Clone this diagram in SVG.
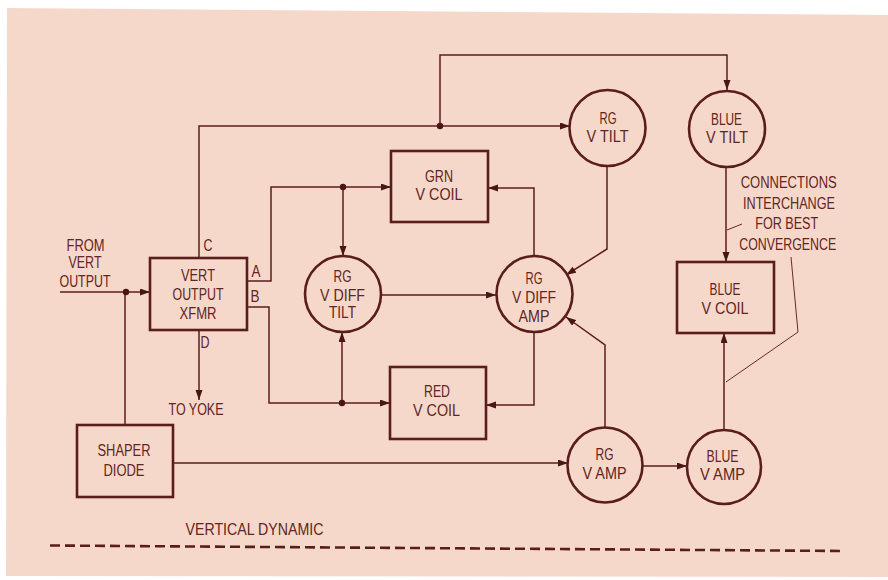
<svg xmlns="http://www.w3.org/2000/svg" width="888" height="580" viewBox="0 0 888 580">
<defs>
<style>
.bg{fill:#f6d8cb}
.box{fill:none;stroke:#5a1e1a;stroke-width:2.6}
.c{fill:none;stroke:#5a1e1a;stroke-width:1.5}
.thin{fill:none;stroke:#6a2a25;stroke-width:1}
.dot{fill:#4a1614}
.dash{fill:none;stroke:#5a1e1a;stroke-width:2.6;stroke-dasharray:10 5}
text{font-family:"Liberation Sans",Arial,sans-serif;font-size:16px;fill:#632520;text-anchor:middle}
.st{text-anchor:start}
</style>
<marker id="ah" markerUnits="userSpaceOnUse" markerWidth="11" markerHeight="8" refX="10" refY="3.5" orient="auto">
<path d="M0,0 L10,3.5 L0,7 z" fill="#4a1614"/>
</marker>
</defs>
<polygon class="bg" points="7,8 888,15 888,577 6,576"/>

<g id="connectors">
<path class="c" d="M60,292 H150" marker-end="url(#ah)"/>
<path class="c" d="M125,425 V292"/>
<path class="c" d="M199,258 V126 H570" marker-end="url(#ah)"/>
<path class="c" d="M440,126 V55 H727 V90" marker-end="url(#ah)"/>
<path class="c" d="M247,281 H271 V187 H391" marker-end="url(#ah)"/>
<path class="c" d="M343,187 V256" marker-end="url(#ah)"/>
<path class="c" d="M247,307 H269 V403 H390" marker-end="url(#ah)"/>
<path class="c" d="M342,403 V332" marker-end="url(#ah)"/>
<path class="c" d="M199,330 V400" marker-end="url(#ah)"/>
<path class="c" d="M381,295 H496" marker-end="url(#ah)"/>
<path class="c" d="M534,256 V188 H488" marker-end="url(#ah)"/>
<path class="c" d="M534,332 V405 H486" marker-end="url(#ah)"/>
<path class="c" d="M607,166 V249 L566,275" marker-end="url(#ah)"/>
<path class="c" d="M605,428 V345 L566,317" marker-end="url(#ah)"/>
<path class="c" d="M173,463 H568" marker-end="url(#ah)"/>
<path class="c" d="M642,466 H687" marker-end="url(#ah)"/>
<path class="c" d="M724,430 V333" marker-end="url(#ah)"/>
<path class="c" d="M726,167 V262" marker-end="url(#ah)"/>
<path class="thin" d="M727,230 L742,224"/>
<path class="thin" d="M791,257 L798,332 L726,382"/>
<circle class="dot" cx="126" cy="292" r="3.2"/>
<circle class="dot" cx="440" cy="126" r="3.2"/>
<circle class="dot" cx="343" cy="187" r="3.2"/>
<circle class="dot" cx="342" cy="403" r="3.2"/>
</g>

<g id="from-vert-output">
<text x="85.5" y="250.7" textLength="38" lengthAdjust="spacingAndGlyphs">FROM</text>
<text x="85" y="268.4" textLength="33" lengthAdjust="spacingAndGlyphs">VERT</text>
<text x="85" y="286.7" textLength="51" lengthAdjust="spacingAndGlyphs">OUTPUT</text>
</g>

<g id="vert-output-xfmr">
<rect class="box" x="150" y="258" width="97" height="72"/>
<text x="198" y="280.7" textLength="34" lengthAdjust="spacingAndGlyphs">VERT</text>
<text x="198" y="299.7" textLength="51" lengthAdjust="spacingAndGlyphs">OUTPUT</text>
<text x="198" y="318.7" textLength="37" lengthAdjust="spacingAndGlyphs">XFMR</text>
<text x="208" y="250.7" textLength="9" lengthAdjust="spacingAndGlyphs">C</text>
<text x="256" y="277.4" textLength="9" lengthAdjust="spacingAndGlyphs">A</text>
<text x="255" y="302.4" textLength="9" lengthAdjust="spacingAndGlyphs">B</text>
<text x="205" y="347.7" textLength="9" lengthAdjust="spacingAndGlyphs">D</text>
</g>

<g id="to-yoke">
<text x="196" y="414.7" textLength="55" lengthAdjust="spacingAndGlyphs">TO YOKE</text>
</g>

<g id="grn-v-coil">
<rect class="box" x="391" y="151" width="97" height="71"/>
<text x="439" y="181.7" textLength="28" lengthAdjust="spacingAndGlyphs">GRN</text>
<text x="439" y="199.7" textLength="47" lengthAdjust="spacingAndGlyphs">V COIL</text>
</g>

<g id="red-v-coil">
<rect class="box" x="390" y="367" width="96" height="72"/>
<text x="437" y="397.4" textLength="26" lengthAdjust="spacingAndGlyphs">RED</text>
<text x="436.5" y="415.7" textLength="47" lengthAdjust="spacingAndGlyphs">V COIL</text>
</g>

<g id="rg-v-diff-tilt">
<circle class="box" cx="343" cy="294" r="38"/>
<text x="342.5" y="281.7" textLength="18" lengthAdjust="spacingAndGlyphs">RG</text>
<text x="342.5" y="300.7" textLength="45" lengthAdjust="spacingAndGlyphs">V DIFF</text>
<text x="342.5" y="318.4" textLength="27" lengthAdjust="spacingAndGlyphs">TILT</text>
</g>

<g id="rg-v-diff-amp">
<circle class="box" cx="534.5" cy="294" r="38"/>
<text x="534" y="284" textLength="17" lengthAdjust="spacingAndGlyphs">RG</text>
<text x="534" y="303" textLength="44" lengthAdjust="spacingAndGlyphs">V DIFF</text>
<text x="534" y="321.7" textLength="31" lengthAdjust="spacingAndGlyphs">AMP</text>
</g>

<g id="rg-v-tilt">
<circle class="box" cx="607.5" cy="128" r="38"/>
<text x="608" y="124" textLength="17" lengthAdjust="spacingAndGlyphs">RG</text>
<text x="607.5" y="142.4" textLength="42" lengthAdjust="spacingAndGlyphs">V TILT</text>
</g>

<g id="blue-v-tilt">
<circle class="box" cx="727" cy="129" r="38"/>
<text x="726.5" y="125" textLength="31" lengthAdjust="spacingAndGlyphs">BLUE</text>
<text x="727" y="143" textLength="42" lengthAdjust="spacingAndGlyphs">V TILT</text>
</g>

<g id="blue-v-coil">
<rect class="box" x="677" y="262" width="97" height="71"/>
<text x="725" y="295" textLength="31" lengthAdjust="spacingAndGlyphs">BLUE</text>
<text x="725" y="314" textLength="47" lengthAdjust="spacingAndGlyphs">V COIL</text>
</g>

<g id="rg-v-amp">
<circle class="box" cx="605" cy="465" r="37.5"/>
<text x="604.5" y="459.7" textLength="18" lengthAdjust="spacingAndGlyphs">RG</text>
<text x="604.5" y="479" textLength="44" lengthAdjust="spacingAndGlyphs">V AMP</text>
</g>

<g id="blue-v-amp">
<circle class="box" cx="724" cy="467" r="37"/>
<text x="722.5" y="461.7" textLength="32" lengthAdjust="spacingAndGlyphs">BLUE</text>
<text x="722.5" y="479.7" textLength="45" lengthAdjust="spacingAndGlyphs">V AMP</text>
</g>

<g id="shaper-diode">
<rect class="box" x="77" y="425" width="96" height="72"/>
<text x="124" y="456.4" textLength="53" lengthAdjust="spacingAndGlyphs">SHAPER</text>
<text x="124" y="475.7" textLength="41" lengthAdjust="spacingAndGlyphs">DIODE</text>
</g>

<g id="note">
<text x="788.7" y="188.4" textLength="96" lengthAdjust="spacingAndGlyphs">CONNECTIONS</text>
<text x="789" y="209" textLength="92" lengthAdjust="spacingAndGlyphs">INTERCHANGE</text>
<text x="786.7" y="229" textLength="63" lengthAdjust="spacingAndGlyphs">FOR BEST</text>
<text x="787.7" y="249.7" textLength="97" lengthAdjust="spacingAndGlyphs">CONVERGENCE</text>
</g>

<g id="vertical-dynamic">
<text class="st" x="185.5" y="535" textLength="138" lengthAdjust="spacingAndGlyphs">VERTICAL DYNAMIC</text>
<path class="dash" d="M50,545.5 L845,551"/>
</g>
</svg>
